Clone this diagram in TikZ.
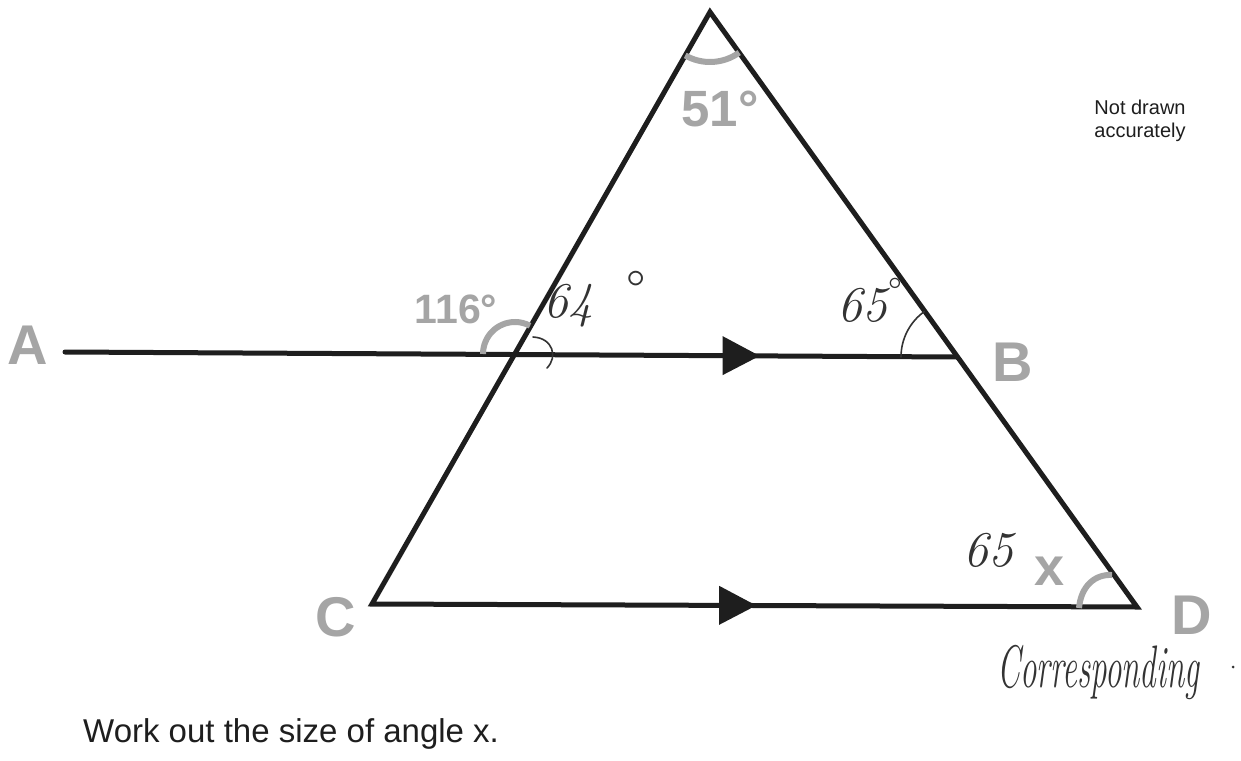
\documentclass[tikz,border=0pt]{standalone}
\usepackage{fontspec}
\newfontfamily\arial{Liberation Sans}
\usetikzlibrary{calc,decorations.markings}
\definecolor{ink}{HTML}{1E1E1E}
\definecolor{pencil}{HTML}{A5A5A5}
\definecolor{hand}{HTML}{333333}
\tikzset{
  x=1pt, y=1pt,
  thickline/.style={draw=ink, line width=5pt},
  grayarc/.style={draw=pencil, line width=6pt},
  handarc/.style={draw=hand, line width=1.6pt, line cap=round},
  pointlabel/.style={text=pencil, inner sep=0pt, font=\arial\bfseries\fontsize{56}{60}\selectfont},
  anglelabel/.style={text=pencil, inner sep=0pt},
  handtext/.style={text=hand, inner sep=0pt, font=\itshape\fontsize{50}{54}\selectfont},
  arrowmark/.style={postaction={decorate}, decoration={markings,
     mark=at position #1 with {\fill[ink] (-18.5pt,-19.5pt) -- (18.5pt,0pt) -- (-18.5pt,19.5pt) -- cycle;}}}
}
\begin{document}
\begin{tikzpicture}
\useasboundingbox (0,0) rectangle (1241,-760);
\fill[white] (0,0) rectangle (1241,-760);
% vertices
\coordinate (T) at (710,-12);
\coordinate (C) at (372,-604);
\coordinate (D) at (1137,-607);
\coordinate (A) at (65,-352);
\coordinate (B) at (957,-357);
\coordinate (P) at (515,-354);
% triangle
\draw[thickline, line join=miter] (T) -- (C) -- (D) -- cycle;
% parallel lines with arrow marks
\draw[thickline, line cap=round, arrowmark=0.758] (A) -- (B);
\path[arrowmark=0.478] (C) -- (D);
% grey angle arcs
\draw[grayarc] ($(T)+(240.3:50pt)$) arc[start angle=240.3, end angle=305.7, radius=50pt];
\draw[grayarc] ($(P)+(180:32pt)$) arc[start angle=180, end angle=62, radius=32pt];
\draw[grayarc] (1079,-608) .. controls (1081,-586) and (1095,-574) .. (1112,-575);
% handwritten arcs
\draw[handarc] (533,-337) .. controls (553,-338) and (558,-357) .. (547,-368);
\draw[handarc] ($(B)+(180:56pt)$) arc[start angle=180, end angle=125.6, radius=56pt];
% point labels
\node[pointlabel] (lA) at (28,-345) {A};
\node[pointlabel] (lB) at (1013,-362) {B};
\node[pointlabel] (lC) at (336,-617) {C};
\node[pointlabel] (lD) at (1192,-615) {D};
% grey angle labels
\node[anglelabel, font=\arial\bfseries\fontsize{51}{55}\selectfont] (a51) at (720,-109) {51°};
\node[anglelabel, font=\arial\bfseries\fontsize{41}{45}\selectfont] (a116) at (456,-309) {116°};
\node[anglelabel, font=\arial\bfseries\fontsize{54}{58}\selectfont] (ax) at (1050,-571) {x};
% handwritten labels
\node[handtext] (h64) at (568,-306) {64};
\node[handtext, font=\fontsize{56}{60}\selectfont] (h64d) at (636,-290) {°};
\node[handtext] (h65) at (862,-305) {65};
\node[handtext, font=\fontsize{40}{44}\selectfont] (h65d) at (895,-292) {°};
\node[handtext] (h65b) at (988,-550) {65};
\node[handtext, font=\itshape\fontsize{60}{64}\selectfont, xscale=0.55, anchor=base west] (corr) at (997,-687) {Corresponding};
\fill[hand] (1233,-667) circle (1.5pt);
% notes
\node[text=ink, inner sep=0pt, align=center, font=\arial\fontsize{20}{23}\selectfont] (note) at (1140,-121) {Not drawn\\accurately};
\node[text=ink, inner sep=0pt, anchor=base west, font=\arial\fontsize{33}{38}\selectfont] (task) at (83,-742) {Work out the size of angle x.};
\end{tikzpicture}
\end{document}
